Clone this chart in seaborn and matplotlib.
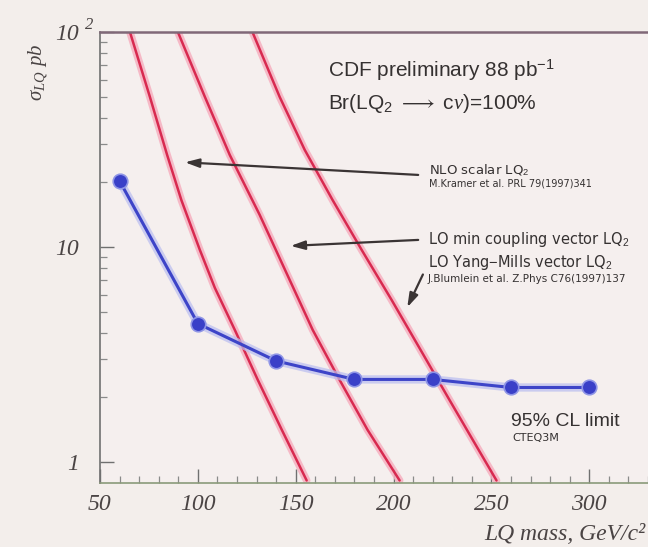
import matplotlib
matplotlib.use("Agg")
import matplotlib.pyplot as plt
import seaborn as sns
import pandas as pd
from matplotlib.ticker import FixedLocator, NullFormatter

# ---- data ----
mass_limit = [60, 100, 140, 180, 220, 260, 300]
xsec_limit = [20.3, 4.4, 2.95, 2.42, 2.42, 2.22, 2.22]

nlo_scalar_mass = [65.3, 75.5, 84.3, 91.6, 101.0, 108.7, 118.9, 130.6, 142.9, 155.6]
nlo_scalar_xsec = [100, 49.9, 26.8, 16.5, 9.7, 6.45, 4.11, 2.41, 1.41, 0.82]

lo_min_mass = [89.8, 103.6, 116.3, 131.6, 146.9, 158.7, 172.4, 186.7, 203.1]
lo_min_xsec = [100, 49.9, 26.8, 14.1, 7.03, 4.11, 2.41, 1.41, 0.82]

lo_ym_mass = [128.1, 141.8, 154.6, 168.9, 183.7, 199.0, 213.8, 228.6, 243.4, 252.6]
lo_ym_xsec = [99, 49.9, 28.3, 16.5, 9.69, 5.67, 3.32, 1.94, 1.14, 0.82]

x_ticks = [50, 100, 150, 200, 250, 300]
y_ticks = [1, 10, 100]
y_tick_labels = ["1", "10", "10"]
y_top_exponent = "2"

sns.set_theme(style="white")
plt.rcParams["mathtext.fontset"] = "custom"
plt.rcParams["mathtext.rm"] = "Liberation Sans"
plt.rcParams["mathtext.it"] = "Liberation Serif:italic"
plt.rcParams["mathtext.bf"] = "Liberation Sans:bold"
plt.rcParams["font.family"] = ["Liberation Sans", "DejaVu Sans"]

bg = "#f3eeeb"
fig = plt.figure(figsize=(6.48, 5.47), dpi=100, facecolor=bg)
ax = fig.add_axes([0.1543, 0.117, 0.8457, 0.8245])
ax.set_facecolor("#f5efee")
ax.set_yscale("log")
ax.set_xlim(50, 330)
ax.set_ylim(0.798, 100)

# theory curves (red with pink halo)
for m, s in [(nlo_scalar_mass, nlo_scalar_xsec), (lo_min_mass, lo_min_xsec), (lo_ym_mass, lo_ym_xsec)]:
    df = pd.DataFrame({"m": m, "s": s})
    sns.lineplot(data=df, x="m", y="s", ax=ax, color="#f5b0c0", lw=5.5, alpha=0.85, sort=True)
    sns.lineplot(data=df, x="m", y="s", ax=ax, color="#d82a50", lw=1.8, sort=True)

# limit curve (blue)
dl = pd.DataFrame({"m": mass_limit, "s": xsec_limit})
sns.lineplot(data=dl, x="m", y="s", ax=ax, color="#b9bdf0", lw=6, alpha=0.7)
sns.lineplot(data=dl, x="m", y="s", ax=ax, color="#3d44c8", lw=2.2)
sns.scatterplot(data=dl, x="m", y="s", ax=ax, color="#3a40c8", s=110,
                edgecolor="#8f95e6", linewidth=1.2, zorder=5)

# arrows
arr = dict(arrowstyle="-|>,head_length=0.7,head_width=0.22", color="#3a3434", lw=1.6)
ax.annotate("", xy=(92, 24.8), xytext=(214, 21.6), arrowprops=arr)
ax.annotate("", xy=(146, 10.1), xytext=(214, 10.8), arrowprops=arr)
ax.annotate("", xy=(206.4, 5.1), xytext=(215.6, 7.65), arrowprops=arr)

txtc = "#353131"
def ftext(px, py, s, **kw):
    fig.text(px / 648, 1 - py / 547, s, **kw)

ftext(328, 70, r"CDF preliminary 88 pb$^{-1}$", fontsize=15, color=txtc, va="center")
ftext(328, 104, r"Br(LQ$_2$ $\longrightarrow$ c$\nu$)=100%", fontsize=15, color=txtc, va="center")
ftext(429, 170, r"NLO scalar LQ$_2$", fontsize=9.5, color=txtc, va="center",
      family="DejaVu Sans")
ftext(429, 183, "M.Kramer et al. PRL 79(1997)341", fontsize=7, color=txtc, va="center",
      family="DejaVu Sans")
ftext(428, 240, r"LO min coupling vector LQ$_2$", fontsize=10.5, color=txtc, va="center",
      family="DejaVu Sans")
ftext(428, 262, r"LO Yang$-$Mills vector LQ$_2$", fontsize=10.5, color=txtc, va="center",
      family="DejaVu Sans")
ftext(428, 279, "J.Blumlein et al. Z.Phys C76(1997)137", fontsize=7.5, color=txtc, va="center",
      family="DejaVu Sans")
ftext(511, 421, "95% CL limit", fontsize=14, color=txtc, va="center")
ftext(512, 438, "CTEQ3M", fontsize=8, color=txtc, va="center", family="DejaVu Sans")

# axis labels
ftext(646, 535, "LQ mass, GeV/c\u00b2", fontsize=17, color="#4a4444", ha="right",
      va="center", family="Liberation Serif", style="italic")
ftext(38, 72, r"$\sigma_{LQ}$ $\mathit{pb}$", fontsize=15, color="#4a4444", rotation=90,
      ha="center", va="center")
ftext(89, 25, y_top_exponent, fontsize=12, color="#4a4444", ha="center", va="center",
      family="Liberation Serif", style="italic")

# ticks
ax.xaxis.set_major_locator(FixedLocator(x_ticks))
ax.xaxis.set_minor_locator(FixedLocator(list(range(60, 331, 10))))
ax.set_xticklabels([str(v) for v in x_ticks], family="Liberation Serif", style="italic",
                   fontsize=17, color="#4a4444")
ax.yaxis.set_major_locator(FixedLocator(y_ticks))
minors = [k * d for d in (1, 10) for k in range(2, 10)]
ax.yaxis.set_minor_locator(FixedLocator(minors))
ax.yaxis.set_minor_formatter(NullFormatter())
ax.set_yticklabels(y_tick_labels, family="Liberation Serif", style="italic", fontsize=17,
                   color="#4a4444")
ax.tick_params(axis="both", which="both", bottom=True, left=True, top=False, right=False)
ax.tick_params(axis="both", which="major", direction="in", length=10, width=1, color="#707070")
ax.tick_params(axis="both", which="minor", direction="in", length=5, width=0.9, color="#8a8a8a")
ax.tick_params(axis="x", which="major", pad=8)
ax.tick_params(axis="y", which="major", pad=15)
ax.set_xlabel("")
ax.set_ylabel("")

ax.spines["left"].set_color("#707070")
ax.spines["left"].set_linewidth(1.2)
ax.spines["bottom"].set_color("#8a9a7a")
ax.spines["bottom"].set_linewidth(1.2)
ax.spines["top"].set_color("#806878")
ax.spines["top"].set_linewidth(1.8)
ax.spines["right"].set_visible(False)

fig.savefig("out.png", dpi=100, facecolor=bg)
